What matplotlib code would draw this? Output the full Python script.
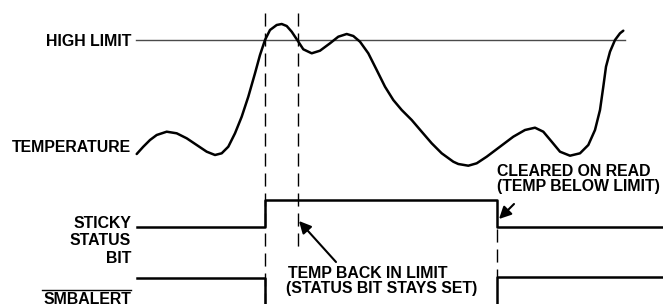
import matplotlib.pyplot as plt

plt.rcParams['font.family'] = ['Liberation Sans', 'DejaVu Sans']

# temperature trace (pixel coords, y downwards)
temp_x = [136.7, 143.3, 150, 156.7, 166.7, 176.7, 186.7, 196.7, 206.7, 215,
          221.7, 228.3, 235, 241.7, 248.3, 255, 260, 265, 270, 276.7, 281.7,
          286.7, 291.7, 297.7, 303.3, 311.7, 320, 330, 338.3, 346.7, 353.3,
          360, 368.3, 376.7, 385, 393.3, 401.7, 411.7, 421.7, 431.7, 441.7,
          453.3, 458.3, 468.3, 476.7, 486.7, 500, 513.3, 525, 535, 543.3,
          551.7, 560, 570, 580, 588.3, 595, 600, 603.3, 606, 610, 615, 620, 623.3]
temp_y = [154, 146.7, 140, 135, 131.7, 133.3, 138.3, 145, 151.7, 155,
          153.3, 146.7, 133.3, 116.7, 96.7, 73.3, 55, 40, 30, 25, 24,
          26, 31.7, 40.7, 49.3, 53.3, 50.7, 43.3, 36.7, 34, 36,
          41.7, 53.3, 70, 86.7, 100, 110, 120, 131.7, 143.3, 153.3,
          161.7, 164, 165.7, 163.3, 156.7, 146.7, 136.7, 130, 127.7, 131.7,
          141.7, 151.7, 155.7, 153.3, 145, 130, 110, 86.7, 66.7, 51.7, 40, 33.3, 30.7]
high_limit_y = 40

# sticky status bit and SMBALERT (step traces)
sticky_x = [137, 264.5, 264.5, 496.5, 496.5, 663]
sticky_y = [227, 227, 200, 200, 227, 227]
alert_x_a = [137, 264.5, 264.5]
alert_y_a = [278, 278, 304]
alert_x_b = [496.5, 496.5, 663]
alert_y_b = [304, 277, 277]

fig = plt.figure(figsize=(6.63, 3.04), dpi=100)
ax = fig.add_axes([0, 0, 1, 1])
ax.set_xlim(0, 663)
ax.set_ylim(304, 0)
ax.axis('off')

ax.plot([136, 625], [high_limit_y, high_limit_y], color='#4a4a4a', lw=1.0)
ax.plot(temp_x, temp_y, color='black', lw=1.8, solid_capstyle='round',
        solid_joinstyle='round')

ax.plot(sticky_x, sticky_y, color='black', lw=1.8)
ax.plot(alert_x_a, alert_y_a, color='black', lw=1.8)
ax.plot(alert_x_b, alert_y_b, color='black', lw=1.8)

# dashed markers
dash = dict(color='black', lw=1.0, dashes=(9.4, 5))
ax.plot([264.5, 264.5], [13, 304], **dash)
ax.plot([298, 298], [13, 247], **dash)
ax.plot([496.5, 496.5], [229, 277], **dash)

fs = 11.4
tk = dict(fontsize=fs, fontweight='bold', ha='right', va='baseline')
ax.text(131, 45.5, 'HIGH LIMIT', **tk)
ax.text(131, 152.5, 'TEMPERATURE', **tk)
ax.text(131, 227.5, 'STICKY', **tk)
ax.text(131, 245, 'STATUS', **tk)
ax.text(131, 263, 'BIT', **tk)
ax.text(131, 304, 'SMBALERT', **tk)
ax.plot([42, 131], [289.5, 289.5], color='black', lw=1.0)

tl = dict(fontsize=fs, fontweight='bold', ha='left', va='baseline')
ax.text(288, 277.5, 'TEMP BACK IN LIMIT', **tl)
ax.text(286.5, 293.5, '(STATUS BIT STAYS SET)', **tl)
ax.text(497, 175.5, 'CLEARED ON READ', **tl)
ax.text(497, 190.5, '(TEMP BELOW LIMIT)', **tl)

arr = dict(arrowstyle='-|>,head_length=0.6,head_width=0.3', color='black',
           lw=1.5, mutation_scale=12, shrinkA=0, shrinkB=0)
ax.annotate('', xy=(299, 221), xytext=(336, 262), arrowprops=arr)
ax.annotate('', xy=(499, 219), xytext=(514, 204), arrowprops=arr)

fig.savefig('out.png', dpi=100)
